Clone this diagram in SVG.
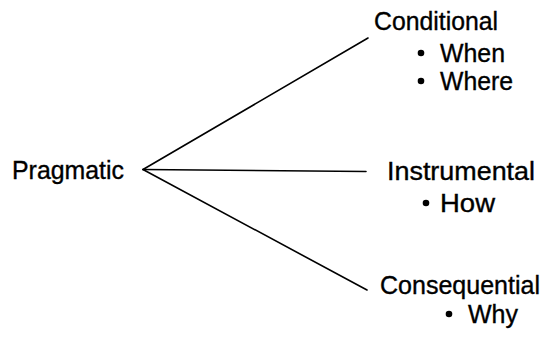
<svg xmlns="http://www.w3.org/2000/svg" width="551" height="342" viewBox="0 0 551 342">
<style>
.t{font-family:"Liberation Sans",Arial,sans-serif;font-size:25px;fill:#000;stroke:#000;stroke-width:0.35}
.c{stroke:#000;stroke-width:1.6;fill:none;stroke-linecap:round}
</style>
<rect width="551" height="342" fill="#fff"/>
<g id="connectors">
<line class="c" x1="143" y1="169.5" x2="368" y2="38"/>
<line class="c" x1="143" y1="169.5" x2="366" y2="171.5"/>
<line class="c" x1="143" y1="169.5" x2="367" y2="290"/>
</g>
<g id="pragmatic"><text class="t" x="12" y="179" textLength="112" lengthAdjust="spacingAndGlyphs">Pragmatic</text></g>
<g id="conditional">
<text class="t" x="374" y="30" textLength="124" lengthAdjust="spacingAndGlyphs">Conditional</text>
<circle cx="421" cy="53" r="3.3"/>
<text class="t" x="440" y="62" textLength="65" lengthAdjust="spacingAndGlyphs">When</text>
<circle cx="421" cy="81" r="3.3"/>
<text class="t" x="440" y="90" textLength="73" lengthAdjust="spacingAndGlyphs">Where</text>
</g>
<g id="instrumental">
<text class="t" x="387" y="180" textLength="148" lengthAdjust="spacingAndGlyphs">Instrumental</text>
<circle cx="426" cy="203" r="3.3"/>
<text class="t" x="440" y="212" textLength="55" lengthAdjust="spacingAndGlyphs">How</text>
</g>
<g id="consequential">
<text class="t" x="380" y="294" textLength="160" lengthAdjust="spacingAndGlyphs">Consequential</text>
<circle cx="449" cy="314" r="3.3"/>
<text class="t" x="468" y="323" textLength="50" lengthAdjust="spacingAndGlyphs">Why</text>
</g>
</svg>
